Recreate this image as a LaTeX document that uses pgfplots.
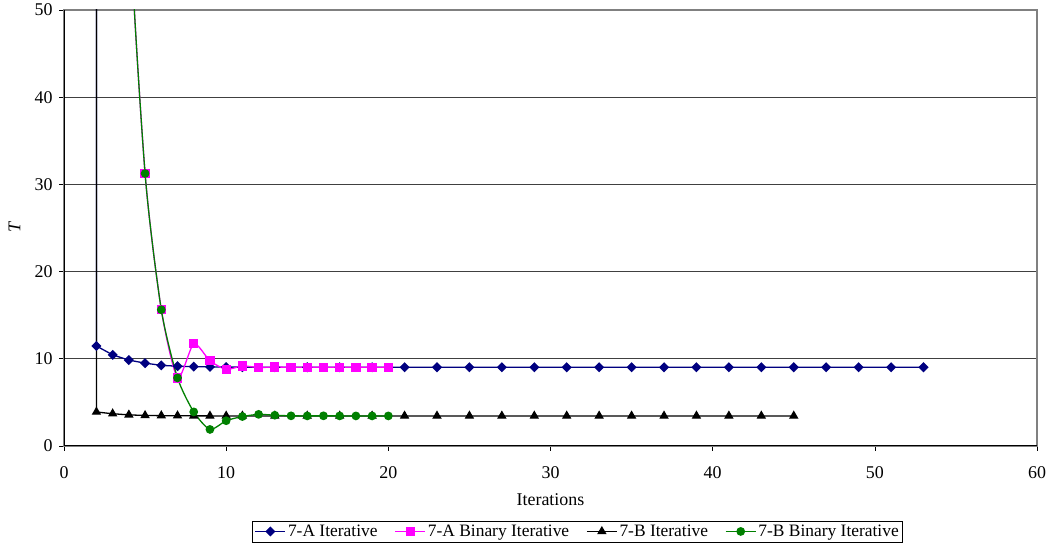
\documentclass[border=0pt]{standalone}
\usepackage{pgfplots}
\pgfplotsset{compat=1.18}
\usepackage{fontspec}
\setmainfont{Liberation Serif}
\definecolor{navyA}{RGB}{0,0,128}
\definecolor{pinkA}{RGB}{255,0,255}
\definecolor{greenB}{RGB}{0,128,0}
\begin{document}
\begin{tikzpicture}
\begin{axis}[
    at={(64bp,102bp)}, anchor=south west,
    scale only axis, width=973bp, height=436bp,
    xmin=0, xmax=60, ymin=0, ymax=50,
    xtick={0,10,...,60}, ytick={0,10,...,50},
    xtick pos=bottom, ytick pos=left,
    tick align=outside, major tick length=5bp,
    ymajorgrids, grid style={black!75, line width=0.8bp},
    axis line style={gray, line width=1.2bp},
    tick style={black, line width=0.6bp},
    /pgf/number format/assume math mode=true,
    tick label style={font=\fontsize{18}{20}\selectfont},
    xticklabel style={yshift=-12bp},
    yticklabel style={xshift=-3bp},
    xlabel={Iterations}, ylabel={\itshape T},
    label style={font=\fontsize{18}{20}\selectfont},
    xlabel style={at={(axis description cs:0.5,-0.124)}, anchor=center},
    ylabel style={at={(axis description cs:-0.051,0.5)}, anchor=center},
    legend columns=4,
    legend style={at={(axis description cs:0.528,-0.196)}, anchor=center,
        draw=black, line width=0.6bp, font=\fontsize{17.5}{20}\selectfont,
        /tikz/every even column/.append style={column sep=15bp},
        inner sep=2bp},
    legend cell align=left,
    legend image code/.code={
        \draw[mark repeat=2, mark phase=2, #1]
            plot coordinates {(0bp,0bp) (15bp,0bp) (30bp,0bp)};},
]
\addplot[navyA, line width=1.3bp, mark=square*, mark size=2.9bp,
    mark options={rotate=45}] coordinates {
    (2,200) (2,11.47) (3,10.45) (4,9.85) (5,9.5) (6,9.25) (7,9.15) (8,9.1)
    (9,9.07) (10,9.05) (11,9.04) (13,9.03) (15,9.03) (17,9.03) (19,9.03)
    (21,9.03) (23,9.03) (25,9.03) (27,9.03) (29,9.03) (31,9.03) (33,9.03)
    (35,9.03) (37,9.03) (39,9.03) (41,9.03) (43,9.03) (45,9.03) (47,9.03)
    (49,9.03) (51,9.03) (53,9.03)
};
\addlegendentry{7-A Iterative}
\addplot[pinkA, line width=1.3bp, mark=square*, mark size=4bp, smooth, tension=0.4] coordinates {
    (3,125) (4,62.5) (5,31.25) (6,15.63) (7,7.81) (8,11.72) (9,9.77) (10,8.79)
    (11,9.18) (12,9.0) (13,9.06) (14,9.02) (15,9.03) (16,9.03) (17,9.03)
    (18,9.03) (19,9.03) (20,9.03)
};
\addlegendentry{7-A Binary Iterative}
\addplot[black, line width=1.3bp, mark=triangle*, mark size=4.2bp] coordinates {
    (2,200) (2,3.9) (3,3.7) (4,3.57) (5,3.5) (6,3.48) (7,3.47) (8,3.46)
    (9,3.45) (10,3.45) (11,3.45) (13,3.45) (15,3.45) (17,3.45) (19,3.45)
    (21,3.45) (23,3.45) (25,3.45) (27,3.45) (29,3.45) (31,3.45) (33,3.45)
    (35,3.45) (37,3.45) (39,3.45) (41,3.45) (43,3.45) (45,3.45)
};
\addlegendentry{7-B Iterative}
\addplot[greenB, line width=1.3bp, mark=*, mark size=3.7bp, smooth, tension=0.4] coordinates {
    (3,125) (4,62.5) (5,31.25) (6,15.63) (7,7.81) (8,3.91) (9,1.9) (10,2.9)
    (11,3.38) (12,3.63) (13,3.53) (14,3.46) (15,3.45) (16,3.46) (17,3.45)
    (18,3.45) (19,3.45) (20,3.45)
};
\addlegendentry{7-B Binary Iterative}
\draw[black, line width=1.2bp] (rel axis cs:0,1) -- (rel axis cs:0,0) -- (rel axis cs:1,0);
\end{axis}
\pgfresetboundingbox
\path[use as bounding box] (0,0) rectangle (1048bp,548bp);
\end{tikzpicture}
\end{document}
